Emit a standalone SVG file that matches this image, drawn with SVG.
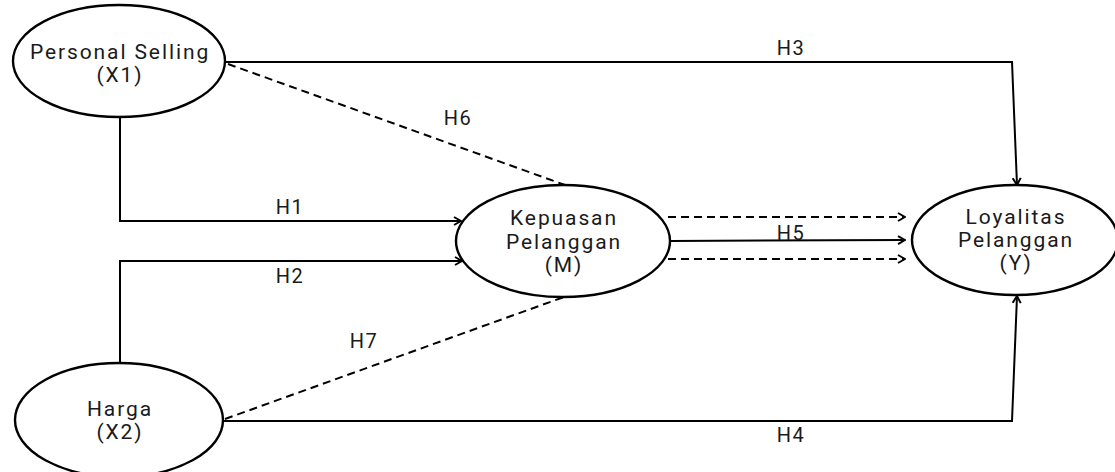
<svg xmlns="http://www.w3.org/2000/svg" width="1115" height="472" viewBox="0 0 1115 472">
  <style>
    .node ellipse { fill: #ffffff; stroke: #000000; stroke-width: 2.4; }
    .node text { font-family: Roboto, "Liberation Sans", sans-serif; font-size: 21px; fill: #1a1a1a; text-anchor: middle; letter-spacing: 1.9px; }
    .edge { fill: none; stroke: #000000; stroke-width: 2; }
    .dash { stroke-dasharray: 8 5; }
    .lbl { font-family: Roboto, "Liberation Sans", sans-serif; font-size: 20px; fill: #1a1a1a; text-anchor: middle; letter-spacing: 1.5px; }
  </style>
  <defs>
    <marker id="arrow" viewBox="0 0 10 10" refX="9" refY="5" markerWidth="10" markerHeight="10" markerUnits="userSpaceOnUse" orient="auto">
      <path d="M2,1 L9,5 L2,9" fill="none" stroke="#000000" stroke-width="2"/>
    </marker>
  </defs>
  <rect width="1115" height="472" fill="#ffffff"/>

  <g id="connectors">
    <!-- H3: X1 to Y across the top -->
    <path class="edge" d="M226,62 L1012,62 L1017,185" marker-end="url(#arrow)"/>
    <!-- H4: X2 to Y across the bottom -->
    <path class="edge" d="M224,421 L1012,421 L1017,296" marker-end="url(#arrow)"/>
    <!-- H1: X1 to M -->
    <path class="edge" d="M120,118 L120,221 L461,221" marker-end="url(#arrow)"/>
    <!-- H2: X2 to M -->
    <path class="edge" d="M120,364 L120,261 L462,261" marker-end="url(#arrow)"/>
    <!-- H6 / H7: mediated paths -->
    <path class="edge dash" d="M228,64 L565,185"/>
    <path class="edge dash" d="M225,419 L564,297"/>
    <!-- H5: M to Y -->
    <path class="edge dash" d="M668,217 L905,217" marker-end="url(#arrow)"/>
    <path class="edge" d="M670,241 L905,240" marker-end="url(#arrow)"/>
    <path class="edge dash" d="M668,259 L905,259" marker-end="url(#arrow)"/>

    <text class="lbl" x="791" y="55">H3</text>
    <text class="lbl" x="458" y="125">H6</text>
    <text class="lbl" x="290" y="214">H1</text>
    <text class="lbl" x="290" y="283">H2</text>
    <text class="lbl" x="791" y="240">H5</text>
    <text class="lbl" x="364" y="348">H7</text>
    <text class="lbl" x="791" y="442">H4</text>
  </g>

  <g id="x1" class="node">
    <ellipse cx="119" cy="61" rx="106" ry="56"/>
    <text x="120" y="59">Personal Selling</text>
    <text x="120" y="82">(X1)</text>
  </g>

  <g id="x2" class="node">
    <ellipse cx="119" cy="420" rx="104" ry="57"/>
    <text x="120" y="416">Harga</text>
    <text x="120" y="439">(X2)</text>
  </g>

  <g id="m" class="node">
    <ellipse cx="563" cy="241" rx="107" ry="56"/>
    <text x="564" y="225">Kepuasan</text>
    <text x="564" y="249">Pelanggan</text>
    <text x="564" y="272">(M)</text>
  </g>

  <g id="y" class="node">
    <ellipse cx="1015" cy="240" rx="103" ry="55"/>
    <text x="1016" y="224">Loyalitas</text>
    <text x="1016" y="247">Pelanggan</text>
    <text x="1016" y="270">(Y)</text>
  </g>
</svg>
